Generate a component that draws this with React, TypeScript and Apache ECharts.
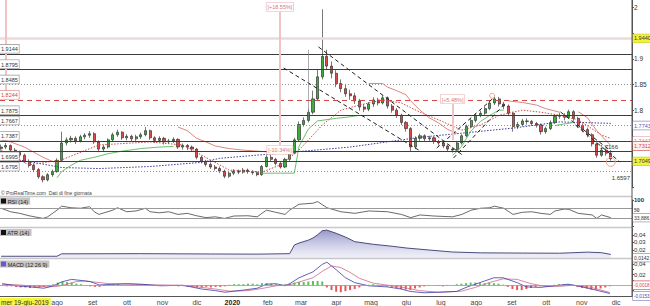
import React, { useEffect, useRef } from 'react';
import * as echarts from 'echarts';

const DAY = 86400000;
const AXIS_MIN = Date.UTC(2019, 5, 13);
const AXIS_MAX = Date.UTC(2020, 11, 14);
const FIRST_LABEL = Date.UTC(2019, 7, 1);
const FIRST_BAR = Date.UTC(2019, 5, 14);
const BAR_STEP_DAYS = 4.05;
const MONTHS_IT = ['gen', 'feb', 'mar', 'apr', 'mag', 'giu', 'lug', 'ago', 'set', 'ott', 'nov', 'dic'];

// price bars: [open, close, low, high]
const ohlc: number[][] = [
  [1.725, 1.728, 1.721, 1.733], [1.728, 1.731, 1.724, 1.736], [1.731, 1.722, 1.719, 1.733], [1.722, 1.718, 1.714, 1.726],
  [1.718, 1.712, 1.707, 1.721], [1.712, 1.700, 1.697, 1.715], [1.700, 1.692, 1.688, 1.704], [1.692, 1.684, 1.679, 1.696],
  [1.684, 1.670, 1.666, 1.687], [1.670, 1.664, 1.659, 1.673], [1.664, 1.674, 1.661, 1.677], [1.674, 1.680, 1.670, 1.684],
  [1.680, 1.702, 1.678, 1.706], [1.702, 1.736, 1.700, 1.758], [1.736, 1.742, 1.731, 1.747], [1.742, 1.745, 1.737, 1.750],
  [1.745, 1.740, 1.734, 1.749], [1.740, 1.748, 1.737, 1.752], [1.748, 1.751, 1.743, 1.755], [1.751, 1.754, 1.746, 1.759],
  [1.754, 1.738, 1.734, 1.757], [1.738, 1.724, 1.718, 1.741], [1.724, 1.728, 1.719, 1.732], [1.728, 1.742, 1.725, 1.745],
  [1.742, 1.752, 1.739, 1.756], [1.752, 1.757, 1.748, 1.762], [1.757, 1.746, 1.742, 1.759], [1.746, 1.749, 1.741, 1.753],
  [1.749, 1.744, 1.739, 1.752], [1.744, 1.748, 1.740, 1.752], [1.748, 1.752, 1.744, 1.756], [1.752, 1.760, 1.749, 1.767],
  [1.760, 1.746, 1.742, 1.762], [1.746, 1.741, 1.736, 1.749], [1.741, 1.745, 1.737, 1.749], [1.745, 1.738, 1.733, 1.748],
  [1.738, 1.740, 1.734, 1.744], [1.740, 1.743, 1.736, 1.747], [1.743, 1.728, 1.724, 1.745], [1.728, 1.731, 1.723, 1.735],
  [1.731, 1.728, 1.722, 1.734], [1.728, 1.724, 1.719, 1.731], [1.724, 1.708, 1.704, 1.726], [1.708, 1.700, 1.696, 1.711],
  [1.700, 1.694, 1.690, 1.703], [1.694, 1.689, 1.685, 1.698], [1.689, 1.686, 1.682, 1.693], [1.686, 1.681, 1.677, 1.690],
  [1.681, 1.671, 1.667, 1.684], [1.671, 1.677, 1.668, 1.680], [1.677, 1.681, 1.673, 1.685], [1.681, 1.679, 1.675, 1.684],
  [1.679, 1.683, 1.676, 1.687], [1.683, 1.680, 1.676, 1.686], [1.680, 1.678, 1.674, 1.683], [1.678, 1.674, 1.671, 1.681],
  [1.674, 1.690, 1.672, 1.693], [1.690, 1.708, 1.688, 1.712], [1.708, 1.704, 1.699, 1.713], [1.704, 1.696, 1.692, 1.707],
  [1.696, 1.689, 1.686, 1.699], [1.689, 1.704, 1.687, 1.707], [1.704, 1.716, 1.701, 1.720], [1.716, 1.742, 1.714, 1.746],
  [1.742, 1.772, 1.740, 1.778], [1.772, 1.780, 1.768, 1.786], [1.780, 1.796, 1.776, 1.802], [1.796, 1.822, 1.792, 1.838],
  [1.822, 1.865, 1.818, 1.880], [1.865, 1.905, 1.860, 1.997], [1.905, 1.886, 1.878, 1.918], [1.886, 1.872, 1.862, 1.895],
  [1.872, 1.852, 1.845, 1.878], [1.852, 1.842, 1.835, 1.860], [1.842, 1.832, 1.826, 1.850], [1.832, 1.828, 1.820, 1.840],
  [1.828, 1.818, 1.812, 1.834], [1.818, 1.806, 1.799, 1.822], [1.806, 1.802, 1.796, 1.812], [1.802, 1.812, 1.798, 1.816],
  [1.812, 1.820, 1.806, 1.825], [1.820, 1.814, 1.809, 1.824], [1.814, 1.824, 1.811, 1.829], [1.824, 1.808, 1.803, 1.827],
  [1.808, 1.800, 1.795, 1.812], [1.800, 1.790, 1.785, 1.804], [1.790, 1.776, 1.771, 1.793], [1.776, 1.764, 1.758, 1.779],
  [1.764, 1.728, 1.720, 1.767], [1.728, 1.745, 1.724, 1.749], [1.745, 1.750, 1.740, 1.754], [1.750, 1.744, 1.739, 1.753],
  [1.744, 1.746, 1.740, 1.750], [1.746, 1.739, 1.734, 1.749], [1.739, 1.736, 1.731, 1.742], [1.736, 1.730, 1.726, 1.739],
  [1.730, 1.724, 1.719, 1.733], [1.724, 1.722, 1.717, 1.728], [1.722, 1.736, 1.720, 1.739], [1.736, 1.750, 1.733, 1.753],
  [1.750, 1.768, 1.747, 1.772], [1.768, 1.780, 1.765, 1.784], [1.780, 1.790, 1.776, 1.794], [1.790, 1.794, 1.786, 1.799],
  [1.794, 1.803, 1.790, 1.807], [1.803, 1.814, 1.800, 1.819], [1.814, 1.822, 1.810, 1.829], [1.822, 1.812, 1.807, 1.826],
  [1.812, 1.808, 1.802, 1.816], [1.808, 1.794, 1.789, 1.811], [1.794, 1.768, 1.758, 1.797], [1.768, 1.772, 1.763, 1.777],
  [1.772, 1.779, 1.768, 1.783], [1.779, 1.778, 1.772, 1.784], [1.778, 1.774, 1.769, 1.781], [1.774, 1.771, 1.766, 1.777],
  [1.771, 1.758, 1.752, 1.774], [1.758, 1.764, 1.754, 1.768], [1.764, 1.776, 1.761, 1.780], [1.776, 1.788, 1.773, 1.792],
  [1.788, 1.790, 1.783, 1.795], [1.790, 1.786, 1.780, 1.794], [1.786, 1.797, 1.783, 1.801], [1.797, 1.784, 1.779, 1.800],
  [1.784, 1.770, 1.765, 1.787], [1.770, 1.762, 1.757, 1.774], [1.762, 1.752, 1.747, 1.766], [1.752, 1.734, 1.729, 1.755],
  [1.734, 1.712, 1.707, 1.737], [1.712, 1.722, 1.709, 1.726], [1.722, 1.716, 1.711, 1.725], [1.716, 1.7049, 1.7015, 1.719],
];

// [bar index, value]
const redStopSegments: number[][][] = [
  [[0, 1.742], [2, 1.738], [5, 1.728], [7, 1.718], [9, 1.708], [11, 1.700], [12, 1.698]],
  [[38, 1.767], [40, 1.760], [42, 1.745], [44, 1.738], [46, 1.730], [49, 1.725], [52, 1.722], [55, 1.720], [58, 1.718], [61, 1.716]],
  [[79, 1.852], [82, 1.852], [83, 1.845], [85, 1.838], [87, 1.830], [88, 1.818], [90, 1.800], [92, 1.785], [94, 1.775], [96, 1.762], [98, 1.755]],
  [[109, 1.818], [112, 1.815], [115, 1.810], [117, 1.803], [120, 1.796]],
  [[124, 1.797], [126, 1.785], [127, 1.772], [128, 1.760], [129, 1.750], [130, 1.740], [131, 1.7312]],
];
const greenStopSegments: number[][][] = [
  [[12, 1.668], [13, 1.680], [15, 1.692], [17, 1.702], [20, 1.708], [23, 1.715], [26, 1.720], [30, 1.725], [34, 1.728], [37, 1.729]],
  [[56, 1.677], [63, 1.677], [64, 1.729], [66, 1.763], [68, 1.779], [72, 1.784], [75, 1.787], [77, 1.790]],
  [[97, 1.712], [98, 1.720], [99, 1.730], [100, 1.745], [101, 1.760], [103, 1.778], [105, 1.790], [107, 1.800], [108, 1.800]],
  [[119, 1.770], [123, 1.776]],
];
const maFast: number[][] = [
  [0, 1.722], [6, 1.693], [13, 1.703], [21, 1.732], [32, 1.738], [39, 1.732], [43, 1.7125], [47, 1.693], [49, 1.683],
  [56, 1.679], [60, 1.693], [64, 1.722], [69, 1.771], [73, 1.800], [77, 1.810], [82, 1.820], [86, 1.814], [90, 1.796],
  [94, 1.781], [99, 1.761], [103, 1.771], [107, 1.790], [112, 1.800], [116, 1.796], [120, 1.790], [124, 1.781], [129, 1.7515], [131, 1.7447],
];
const maSlow: number[][] = [
  [0, 1.709], [7, 1.698], [13, 1.688], [21, 1.686], [32, 1.690], [43, 1.698], [47, 1.706], [60, 1.716], [75, 1.728],
  [90, 1.747], [100, 1.756], [110, 1.765], [120, 1.777], [131, 1.7743],
];
const rsi: number[][] = [
  [0, 69], [2, 56], [4, 50], [6, 41], [9, 31], [10, 37], [12, 62], [13, 77], [15, 71], [17, 69], [19, 75], [20, 56],
  [21, 46], [24, 62], [25, 71], [27, 56], [29, 59], [31, 69], [32, 56], [34, 52], [36, 56], [38, 46], [40, 50], [42, 41],
  [44, 34], [46, 37], [48, 31], [50, 40], [53, 41], [55, 37], [57, 62], [59, 54], [61, 46], [62, 62], [64, 84], [67, 88],
  [68, 94], [70, 71], [73, 56], [76, 50], [79, 59], [83, 56], [86, 46], [88, 34], [90, 44], [93, 40], [97, 37], [99, 46],
  [101, 62], [103, 69], [105, 71], [106, 77], [108, 69], [110, 46], [112, 54], [114, 56], [116, 50], [118, 46], [119, 59],
  [121, 66], [122, 65], [124, 50], [127, 44], [128, 31], [129, 44], [131, 33.886],
];
const atr: number[][] = [
  [0, 0.0118], [12, 0.0118], [13, 0.0150], [30, 0.0152], [45, 0.0148], [55, 0.0146], [62, 0.0152], [63, 0.0266],
  [64, 0.0292], [66, 0.0330], [67, 0.0358], [68, 0.0400], [69, 0.0455], [70, 0.0462], [72, 0.0420], [74, 0.0370],
  [76, 0.0310], [80, 0.0275], [84, 0.0250], [87, 0.0227], [92, 0.0200], [97, 0.0174], [103, 0.0163], [112, 0.0160],
  [120, 0.0158], [126, 0.0172], [129, 0.0165], [131, 0.0142],
];
const macdLine: number[][] = [
  [0, 0.003], [3, -0.001], [6, -0.003], [9, -0.0055], [11, -0.001], [13, 0.0067], [15, 0.011], [17, 0.009], [19, 0.0067],
  [21, 0.0005], [24, 0.002], [27, 0.003], [30, 0.002], [34, -0.001], [39, 0], [43, -0.007], [46, -0.010], [48, -0.013],
  [52, -0.009], [55, -0.0055], [57, 0.002], [59, 0.003], [61, -0.001], [62, 0.003], [64, 0.014], [67, 0.025], [69, 0.039],
  [70, 0.043], [72, 0.029], [74, 0.014], [76, 0.005], [79, -0.001], [83, -0.003], [86, -0.007], [88, -0.0115], [91, -0.014],
  [94, -0.013], [98, -0.0115], [100, -0.004], [102, 0.002], [104, 0.008], [106, 0.014], [108, 0.014], [111, 0.005],
  [113, -0.003], [116, -0.004], [119, -0.001], [122, 0.002], [124, -0.001], [128, -0.009], [131, -0.0153],
];
const macdSignal: number[][] = [
  [0, 0.002], [3, 0.001], [6, -0.001], [10, -0.003], [12, -0.002], [14, 0.002], [16, 0.007], [18, 0.008], [20, 0.006],
  [23, 0.003], [27, 0.002], [32, 0.001], [38, 0], [42, -0.003], [46, -0.007], [49, -0.011], [53, -0.010], [56, -0.006],
  [59, -0.001], [62, 0.001], [64, 0.006], [67, 0.014], [69, 0.026], [71, 0.036], [73, 0.033], [75, 0.024], [77, 0.013],
  [80, 0.004], [84, -0.001], [87, -0.005], [90, -0.010], [94, -0.013], [99, -0.011], [102, -0.004], [105, 0.005],
  [108, 0.012], [111, 0.011], [114, 0.003], [117, -0.002], [120, -0.002], [123, 0], [127, -0.004], [131, -0.0135],
];
const macdHist: number[] = [
  -0.001, -0.002, -0.002, -0.003, -0.004, -0.004, -0.005, -0.004, -0.004, -0.003, -0.001,
  0.002, 0.005, 0.007, 0.006, 0.005, 0.003, 0.002, 0.000, -0.002, -0.003, -0.003,
  -0.001, 0.001, 0.002, 0.002, 0.000, 0.001, -0.001, 0.001, 0.001, 0.002, 0.000, -0.001, -0.001, 0.000, -0.001, 0.000, -0.002, -0.001, -0.002, -0.002,
  -0.004, -0.004, -0.003, -0.004, -0.003, -0.003, -0.002,
  0.001, 0.002, 0.002, 0.002, 0.003, 0.003, 0.002,
  0.004, 0.004, 0.003, 0.002, 0.001, 0.002,
  0.003, 0.005, 0.006, 0.006, 0.007, 0.008, 0.008, 0.007,
  -0.004, -0.009, -0.012, -0.013, -0.011, -0.009, -0.007, -0.004,
  0.000, 0.001, 0.002, 0.001, 0.000,
  -0.002, -0.003, -0.005, -0.007, -0.008, -0.009, -0.006, -0.004,
  -0.002, -0.001, 0.000, -0.001, -0.002, -0.001, 0.000,
  0.002, 0.003, 0.004, 0.005, 0.005, 0.004, 0.004, 0.005, 0.004, 0.003, 0.001,
  -0.003, -0.007, -0.009, -0.009, -0.007, -0.005, -0.003,
  -0.002, -0.001, 0.000, 0.001, 0.002, 0.002, 0.002,
  -0.001, -0.003, -0.005, -0.006, -0.008, -0.008, -0.006, -0.004, -0.0018,
];

const solidLevels = [1.9144, 1.8795, 1.7875, 1.7387, 1.6995];
const dottedLevels = [1.8485, 1.7667, 1.6795];
const redDashedLevel = 1.8244;
const innerLabelLevels = [1.7166, 1.6597];
// dashed trend lines: [[bar index, price], [bar index, price]]
const trendLines: number[][][] = [
  [[60.7, 1.8823], [89.7, 1.7222]],
  [[68.2, 1.9233], [99.1, 1.7125]],
  [[93.6, 1.7261], [105.8, 1.8237]],
  [[97.2, 1.7066], [108.4, 1.8140]],
  [[120.2, 1.7964], [131.3, 1.7183]],
  [[123.4, 1.7710], [133.0, 1.6988]],
];
const measureLines = [
  { at: 59.9, from: 1.732, to: 1.9916, up: '[+18.55%]', down: '[-10.34%]' },
  { at: 97.0, from: 1.7417, to: 1.812, up: '[+5.48%]', down: '' },
  { at: 1.0, from: 1.82, to: 2.015, up: '', down: '' },
];
const cursorLevel = 1.944;
const lastClose = 1.7049;
const lastRedStop = 1.7312;
const lastMaFast = 1.7447;
const lastMaSlow = 1.7743;
const lastRsi = 33.886;
const lastAtr = 0.0142;
const lastHist = -0.0018;
const lastMacd = -0.0153;
const cursorDate = 'mer 19-giu-2019';

const T = (i: number) => FIRST_BAR + i * BAR_STEP_DAYS * DAY;
const pairs = (arr: number[][]) => arr.map(([i, v]) => [T(i), v]);
const FONT = 'Liberation Sans, Arial, sans-serif';

const boxLabel = (text: string, color: string, border: string, bg: string, size = 5.5) => ({
  show: true, position: 'end', distance: 1, formatter: text, fontSize: size, fontFamily: FONT,
  color, backgroundColor: bg, borderColor: border, borderWidth: 0.7, padding: [1, 1, 0, 1], lineHeight: 7,
});
const leftBox = (text: string, color: string, border: string) => ({
  show: true, position: 'insideStartTop', distance: [0, 1], formatter: text, fontSize: 5.5, fontFamily: FONT,
  color, backgroundColor: '#fff', borderColor: border, borderWidth: 0.7, padding: [1, 1, 0, 1], lineHeight: 7,
});
const hidden = { color: 'rgba(0,0,0,0)', width: 0, type: 'solid' };

export default function App() {
  const ref = useRef<HTMLDivElement>(null);
  useEffect(() => {
    if (!ref.current) return;
    const chart = echarts.init(ref.current, undefined, { renderer: 'svg' });

    const mainMarkLines: any[] = [];
    solidLevels.forEach((v) => mainMarkLines.push({ yAxis: v, lineStyle: { color: '#3c3c3c', width: 1, type: 'solid' }, label: leftBox(v.toFixed(4), '#333', '#999') }));
    dottedLevels.forEach((v) => mainMarkLines.push({ yAxis: v, lineStyle: { color: '#777', width: 0.8, type: [1, 2] }, label: leftBox(v.toFixed(4), '#333', '#999') }));
    mainMarkLines.push({ yAxis: redDashedLevel, lineStyle: { color: '#d64545', width: 1, type: [5, 4] }, label: leftBox(redDashedLevel.toFixed(4), '#d64545', '#e08a8a') });
    mainMarkLines.push({ yAxis: innerLabelLevels[0], lineStyle: { color: '#3c3c3c', width: 1, type: 'solid' }, label: { show: true, position: 'insideEndTop', distance: [14, 1], formatter: innerLabelLevels[0].toFixed(4), fontSize: 6, color: '#333', fontFamily: FONT } });
    mainMarkLines.push({ yAxis: innerLabelLevels[1], lineStyle: hidden, label: { show: true, position: 'insideEndTop', distance: [2, 1], formatter: innerLabelLevels[1].toFixed(4), fontSize: 6, color: '#333', fontFamily: FONT } });
    mainMarkLines.push({ yAxis: cursorLevel, lineStyle: { color: '#eedada', width: 2.5, type: 'solid' }, label: boxLabel(cursorLevel.toFixed(4), '#333', '#c9c94a', '#f2f23a') });
    mainMarkLines.push({ yAxis: lastMaSlow, lineStyle: hidden, label: boxLabel(lastMaSlow.toFixed(4), '#5a5ab0', '#8f8fc8', '#fff') });
    mainMarkLines.push({ yAxis: lastMaFast, lineStyle: hidden, label: boxLabel(lastMaFast.toFixed(4), '#d08080', '#e8b0b0', '#fff') });
    mainMarkLines.push({ yAxis: lastRedStop, lineStyle: hidden, label: boxLabel(lastRedStop.toFixed(4), '#d04545', '#d06060', '#fff0f0') });
    mainMarkLines.push({ yAxis: lastClose, lineStyle: hidden, label: boxLabel(lastClose.toFixed(4), '#333', '#c9c94a', '#f2f23a') });
    trendLines.forEach(([a, b]) => mainMarkLines.push([
      { coord: [T(a[0]), a[1]], lineStyle: { color: '#1e1e1e', width: 1, type: [4, 3] }, label: { show: false } },
      { coord: [T(b[0]), b[1]] },
    ]));
    const pinkLabel = (text: string, pos: string) => ({
      show: !!text, position: pos, distance: 1, formatter: text, fontSize: 5.5, fontFamily: FONT, color: '#d47878',
      backgroundColor: '#fff', borderColor: '#e8b0b0', borderWidth: 0.6, padding: [1, 1, 0, 1], lineHeight: 7,
    });
    measureLines.forEach((m) => {
      mainMarkLines.push([
        { coord: [T(m.at), m.from], lineStyle: { color: '#f0c4c4', width: 2, type: 'solid' }, label: pinkLabel(m.up, 'end') },
        { coord: [T(m.at), m.to] },
      ]);
      if (m.down) mainMarkLines.push([
        { coord: [T(m.at), m.from], lineStyle: { color: '#f0c4c4', width: 2, type: 'solid' }, label: pinkLabel(m.down, 'start') },
        { coord: [T(m.at), m.to] },
      ]);
    });
    mainMarkLines.push([
      { coord: [T(65.9), 1.918], lineStyle: { color: '#777', width: 0.6, type: 'solid' }, label: { show: false } },
      { coord: [T(65.9), 1.78] },
    ]);

    const lineSeries = (data: number[][], idx: number, style: any, extra: any = {}) => ({
      type: 'line', xAxisIndex: idx, yAxisIndex: idx, data: pairs(data), symbol: 'none', silent: true,
      lineStyle: style, ...extra,
    });

    const xAxisBase = (gridIndex: number, showLabels: boolean) => ({
      type: 'time', gridIndex, min: AXIS_MIN, max: AXIS_MAX, splitNumber: 18, maxInterval: 31 * DAY,
      axisLine: { show: showLabels, onZero: false, lineStyle: { color: '#555', width: 1 } },
      axisTick: { show: false }, splitLine: { show: false },
      axisLabel: showLabels ? {
        show: true, margin: 3, fontSize: 7, color: '#444', fontFamily: FONT, showMinLabel: false, showMaxLabel: false,
        hideOverlap: false,
        formatter: (value: number) => {
          const d = new Date(value);
          if (d.getUTCDate() !== 1 || value < FIRST_LABEL) return '';
          const m = d.getUTCMonth();
          return m === 0 ? '{y|' + d.getUTCFullYear() + '}' : MONTHS_IT[m];
        },
        rich: { y: { fontWeight: 'bold', fontSize: 7, color: '#222', fontFamily: FONT } },
      } : { show: false },
    });
    const yAxisBase = (gridIndex: number, extra: any) => ({
      type: 'value', gridIndex, position: 'right', scale: true,
      axisLine: { show: true, lineStyle: { color: '#555', width: 1 } },
      axisTick: { show: true, length: 2, lineStyle: { color: '#555' } },
      splitLine: { show: false },
      ...extra,
    });

    const option: any = {
      animation: false,
      useUTC: true,
      textStyle: { fontFamily: FONT },
      grid: [
        { left: 0, right: 18, top: 0, height: 187 },
        { left: 0, right: 18, top: 200, height: 26.7 },
        { left: 0, right: 18, top: 228, height: 30 },
        { left: 0, right: 18, top: 259, height: 38.5 },
      ],
      xAxis: [xAxisBase(0, false), xAxisBase(1, false), xAxisBase(2, false), xAxisBase(3, true)],
      yAxis: [
        yAxisBase(0, {
          min: 1.65, max: 2.015, interval: 0.05,
          axisLabel: {
            fontSize: 6.5, color: '#333', margin: 2, showMaxLabel: false, fontFamily: FONT,
            formatter: (v: number) => { const r = Math.round(v * 100) / 100; return [2, 1.9, 1.85, 1.8].includes(r) ? String(r) : ''; },
          },
        }),
        yAxisBase(1, {
          min: 0, max: 100, interval: 50,
          axisLabel: {
            fontSize: 6, color: '#333', margin: 2, fontFamily: FONT, fontWeight: 'bold',
            formatter: (v: number) => (v === 100 ? '100' : v === 50 ? '{s|50}\n ' : ''),
            rich: { s: { fontSize: 5, color: '#555', fontFamily: FONT } },
          },
        }),
        yAxisBase(2, {
          min: 0.0095, max: 0.049,
          axisLabel: {
            fontSize: 6, color: '#333', margin: 2, showMinLabel: false, showMaxLabel: false, fontFamily: FONT,
            formatter: (v: number) => { const r = Math.round(v * 1000) / 1000; return [0.02, 0.03, 0.04].includes(r) ? String(r).replace('.', ',') : ''; },
          },
        }),
        yAxisBase(3, {
          min: -0.02, max: 0.049,
          axisLabel: {
            fontSize: 6, color: '#333', margin: 2, showMinLabel: false, showMaxLabel: false, fontFamily: FONT,
            formatter: (v: number) => { const r = Math.round(v * 1000) / 1000; return [0.02, 0.04].includes(r) ? String(r).replace('.', ',') : ''; },
          },
        }),
      ],
      series: [
        lineSeries(maSlow, 0, { color: '#3b3b9a', width: 1, type: [1.5, 1.5] }),
        lineSeries(maFast, 0, { color: '#c94a4a', width: 1, type: [1.5, 1.5] }),
        ...redStopSegments.map((s) => lineSeries(s, 0, { color: '#d9776f', width: 0.9 })),
        ...greenStopSegments.map((s) => lineSeries(s, 0, { color: '#5cb85c', width: 0.9 })),
        {
          type: 'candlestick', xAxisIndex: 0, yAxisIndex: 0, barWidth: 2.6, silent: true,
          data: ohlc.map((r, i) => [T(i), r[0], r[1], r[2], r[3]]),
          itemStyle: { color: '#3dae3d', color0: '#d94a4a', borderColor: '#1e1e1e', borderColor0: '#1e1e1e', borderWidth: 0.6 },
          markLine: { silent: true, symbol: ['none', 'none'], animation: false, data: mainMarkLines },
          markPoint: {
            silent: true, animation: false,
            data: [
              { coord: [T(131), 1.699], symbol: 'circle', symbolSize: 9 },
              { coord: [T(105.5), 1.828], symbol: 'circle', symbolSize: 5 },
            ],
            itemStyle: { color: 'rgba(0,0,0,0)', borderColor: '#e7a58f', borderWidth: 1 },
            label: { show: false },
          },
        },
        lineSeries(rsi, 1, { color: '#444', width: 0.8 }, {
          markLine: {
            silent: true, symbol: ['none', 'none'], animation: false,
            data: [
              { yAxis: 70, lineStyle: { color: '#999', width: 1, type: 'solid' }, label: { show: false } },
              { yAxis: 30, lineStyle: { color: '#999', width: 1, type: 'solid' }, label: { show: false } },
              { yAxis: lastRsi, lineStyle: hidden, label: boxLabel(String(lastRsi).replace('.', ','), '#333', '#888', '#fff', 5) },
            ],
          },
        }),
        lineSeries(atr, 2, { color: '#3a3a6e', width: 0.9 }, {
          areaStyle: {
            origin: 'start',
            color: new echarts.graphic.LinearGradient(0, 0, 0, 1, [
              { offset: 0, color: 'rgba(80,80,165,0.85)' },
              { offset: 1, color: 'rgba(215,215,240,0.5)' },
            ]),
          },
          markLine: {
            silent: true, symbol: ['none', 'none'], animation: false,
            data: [{ yAxis: lastAtr, lineStyle: hidden, label: boxLabel(String(lastAtr).replace('.', ','), '#333', '#888', '#fff', 5) }],
          },
        }),
        {
          type: 'bar', xAxisIndex: 3, yAxisIndex: 3, barWidth: 2, silent: true,
          data: macdHist.map((v, i) => [T(i), v]),
          itemStyle: { color: (p: any) => (p.value[1] >= 0 ? '#5cc05c' : '#e05a5a') },
          markLine: {
            silent: true, symbol: ['none', 'none'], animation: false,
            data: [
              { yAxis: 0, lineStyle: { color: '#999', width: 0.8, type: 'solid' }, label: { show: false } },
              { yAxis: lastHist, lineStyle: hidden, label: boxLabel(String(lastHist).replace('.', ','), '#d04545', '#d06060', '#fff', 4.6) },
              { yAxis: lastMacd, lineStyle: hidden, label: boxLabel(String(lastMacd).replace('.', ','), '#4848b0', '#8f8fc8', '#fff', 4.6) },
            ],
          },
        },
        lineSeries(macdSignal, 3, { color: '#d06a8a', width: 0.8 }),
        lineSeries(macdLine, 3, { color: '#3a3aa8', width: 0.8 }),
      ],
      graphic: [
        { type: 'line', z: 50, shape: { x1: 0, y1: 196.5, x2: 632, y2: 196.5 }, style: { stroke: '#c8c8c8', lineWidth: 1.5 } },
        { type: 'line', z: 50, shape: { x1: 0, y1: 227.5, x2: 632, y2: 227.5 }, style: { stroke: '#c8c8c8', lineWidth: 1.5 } },
        { type: 'line', z: 50, shape: { x1: 0, y1: 258.5, x2: 632, y2: 258.5 }, style: { stroke: '#c8c8c8', lineWidth: 1.5 } },
        { type: 'line', z: 50, shape: { x1: 632, y1: 0, x2: 632, y2: 297 }, style: { stroke: '#555', lineWidth: 1 } },
        { type: 'text', z: 60, left: 1, top: 190, style: { text: '© ProRealTime.com  Dati di fine giornata', fontSize: 5, fill: '#444', fontFamily: FONT } },
        { type: 'text', z: 60, left: 0, top: 197.5, style: { text: '     RSI (14)', fontSize: 5.5, fill: '#222', fontFamily: FONT, backgroundColor: '#c4c4c4', padding: [1, 2, 0, 0] } },
        { type: 'rect', z: 61, shape: { x: 1, y: 198.5, width: 5, height: 5 }, style: { fill: '#111' } },
        { type: 'text', z: 60, left: 0, top: 229, style: { text: '     ATR (14)', fontSize: 5.5, fill: '#222', fontFamily: FONT, backgroundColor: '#c4c4c4', padding: [1, 2, 0, 0] } },
        { type: 'rect', z: 61, shape: { x: 1, y: 230, width: 5, height: 5 }, style: { fill: '#111' } },
        { type: 'text', z: 60, left: 0, top: 260.5, style: { text: '     MACD (12 26 9)', fontSize: 5.5, fill: '#222', fontFamily: FONT, backgroundColor: '#c4c4c4', padding: [1, 2, 0, 0] } },
        { type: 'rect', z: 61, shape: { x: 1, y: 261.5, width: 5, height: 5 }, style: { fill: '#6a5acd' } },
        { type: 'text', z: 70, left: 0, top: 298, style: { text: cursorDate, fontSize: 6.5, fill: '#333', fontFamily: FONT, backgroundColor: '#f5f53c', padding: [1, 2, 1, 1] } },
      ],
    };
    chart.setOption(option);
    return () => chart.dispose();
  }, []);
  return <div ref={ref} style={{ position: 'absolute', left: 0, top: 0, width: 650, height: 306 }} />;
}
